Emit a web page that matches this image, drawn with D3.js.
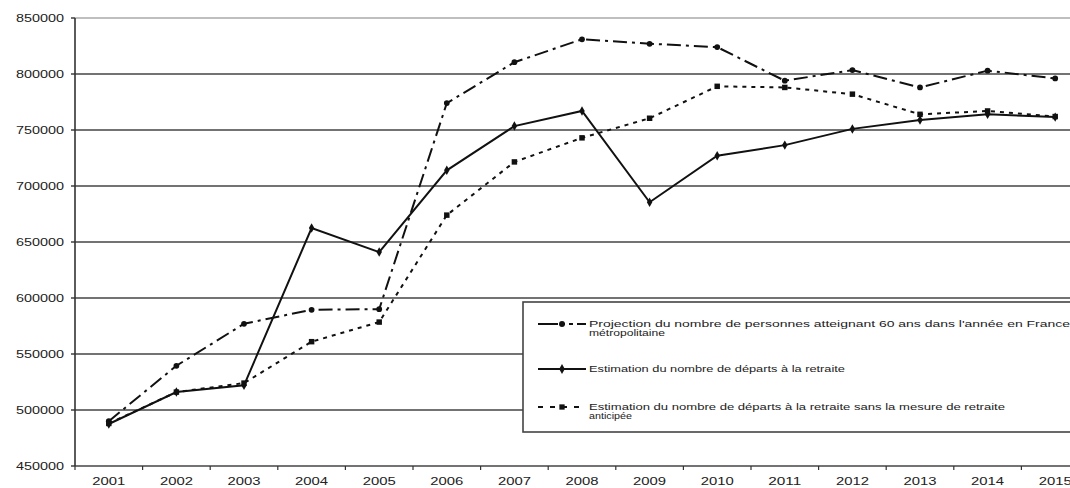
<!DOCTYPE html>
<html>
<head>
<meta charset="utf-8">
<title>Départs à la retraite</title>
<script src="https://d3js.org/d3.v7.min.js"></script>
<style>
  body { margin: 0; background: #fff; }
  svg { display: block; font-family: "Liberation Sans", Arial, sans-serif; }
</style>
</head>
<body>
<script>
// data
var years = ["2001","2002","2003","2004","2005","2006","2007","2008","2009","2010","2011","2012","2013","2014","2015"];
var projection60 = [490000, 539500, 577000, 589500, 590000, 774000, 810500, 831000, 827000, 824000, 794000, 803500, 788000, 803000, 796000];
var departs = [487500, 516000, 522000, 662500, 641000, 714000, 753500, 767000, 685500, 727000, 736500, 751000, 759000, 764000, 761500];
var departsSansRA = [488000, 516000, 524000, 561000, 578500, 674000, 721500, 743000, 760500, 789000, 788000, 782000, 764000, 767000, 762000];
var yTicks = [450000, 500000, 550000, 600000, 650000, 700000, 750000, 800000, 850000];
var legendLabels = [
  ["Projection du nombre de personnes atteignant 60 ans dans l'année en France", "métropolitaine"],
  ["Estimation du nombre de départs à la retraite"],
  ["Estimation du nombre de départs à la retraite sans la mesure de retraite", "anticipée"]
];

var width = 1070, height = 488;
var plotLeft = 75, plotTop = 18, plotBottom = 466, step = 67.6;

var svg = d3.select("body").append("svg")
    .attr("width", width)
    .attr("height", height);

var x = d3.scaleBand()
    .domain(years)
    .range([plotLeft, plotLeft + step * years.length]);

var y = d3.scaleLinear()
    .domain([450000, 850000])
    .range([plotBottom, plotTop]);

function cx(d) { return x(d) + x.bandwidth() / 2; }

// gridlines
svg.append("g").selectAll("line")
    .data(yTicks)
    .enter().append("line")
    .attr("x1", plotLeft)
    .attr("x2", width)
    .attr("y1", function(d) { return y(d); })
    .attr("y2", function(d) { return y(d); })
    .attr("stroke", function(d) { return d == 850000 ? "#aaa" : "#444"; })
    .attr("stroke-width", 1.6);

// y axis line + tick labels
svg.append("line")
    .attr("x1", plotLeft).attr("x2", plotLeft)
    .attr("y1", y(850000)).attr("y2", y(450000))
    .attr("stroke", "#333").attr("stroke-width", 1.6);

svg.append("g").selectAll("line")
    .data(yTicks)
    .enter().append("line")
    .attr("x1", plotLeft - 4).attr("x2", plotLeft)
    .attr("y1", function(d) { return y(d); })
    .attr("y2", function(d) { return y(d); })
    .attr("stroke", "#333").attr("stroke-width", 1.4);

svg.append("g").selectAll("text")
    .data(yTicks)
    .enter().append("text")
    .attr("x", 64)
    .attr("y", function(d) { return y(d) + 3.5; })
    .attr("text-anchor", "end")
    .attr("font-size", 10)
    .attr("fill", "#222")
    .attr("textLength", 48)
    .attr("lengthAdjust", "spacingAndGlyphs")
    .text(function(d) { return d; });

// x axis ticks at category boundaries
svg.append("g").selectAll("line")
    .data(years)
    .enter().append("line")
    .attr("x1", function(d) { return x(d); })
    .attr("x2", function(d) { return x(d); })
    .attr("y1", plotBottom).attr("y2", plotBottom + 4)
    .attr("stroke", "#333").attr("stroke-width", 1.2);

svg.append("g").selectAll("text")
    .data(years)
    .enter().append("text")
    .attr("x", cx)
    .attr("y", 485)
    .attr("text-anchor", "middle")
    .attr("font-size", 10)
    .attr("fill", "#222")
    .attr("textLength", 33)
    .attr("lengthAdjust", "spacingAndGlyphs")
    .text(function(d) { return d; });

// series
var series = [
  { values: projection60, dash: "14,5,3,5", marker: "circle" },
  { values: departs, dash: null, marker: "diamond" },
  { values: departsSansRA, dash: "4,5", marker: "square" }
];

var line = d3.line()
    .x(function(d, i) { return cx(years[i]); })
    .y(function(d) { return y(d); });

series.forEach(function(s) {
  svg.append("path")
      .datum(s.values)
      .attr("fill", "none")
      .attr("stroke", "#111")
      .attr("stroke-width", 2)
      .attr("stroke-dasharray", s.dash)
      .attr("d", line);

  var sym = s.marker == "square" ? d3.symbolSquare : (s.marker == "diamond" ? d3.symbolDiamond : d3.symbolCircle);
  svg.append("g").selectAll("path")
      .data(s.values)
      .enter().append("path")
      .attr("transform", function(d, i) { return "translate(" + cx(years[i]) + "," + y(d) + ")"; })
      .attr("d", d3.symbol().type(sym).size(s.marker == "square" ? 30 : 26))
      .attr("fill", "#111");
});

// legend
var lg = svg.append("g");
lg.append("rect")
    .attr("x", 523).attr("y", 302)
    .attr("width", 600).attr("height", 130)
    .attr("fill", "#fff")
    .attr("stroke", "#444")
    .attr("stroke-width", 1.6);

var legendRows = [
  { y: 324, dash: "20,3,4,4,4,4", marker: "circle", widths: [481, 76] },
  { y: 369, dash: null, marker: "diamond", widths: [256] },
  { y: 407, dash: "5,7", marker: "square", widths: [416, 43] }
];

legendRows.forEach(function(r, k) {
  lg.append("line")
      .attr("x1", 538).attr("x2", 586)
      .attr("y1", r.y).attr("y2", r.y)
      .attr("stroke", "#111")
      .attr("stroke-width", 2)
      .attr("stroke-dasharray", r.dash);
  var sym = r.marker == "square" ? d3.symbolSquare : (r.marker == "diamond" ? d3.symbolDiamond : d3.symbolCircle);
  lg.append("path")
      .attr("transform", "translate(562," + r.y + ")")
      .attr("d", d3.symbol().type(sym).size(28))
      .attr("fill", "#111");
  legendLabels[k].forEach(function(t, j) {
    lg.append("text")
        .attr("x", 589)
        .attr("y", r.y + 3 + j * 9)
        .attr("font-size", 9)
        .attr("fill", "#222")
        .attr("textLength", r.widths[j])
        .attr("lengthAdjust", "spacingAndGlyphs")
        .text(t);
  });
});
</script>
</body>
</html>
